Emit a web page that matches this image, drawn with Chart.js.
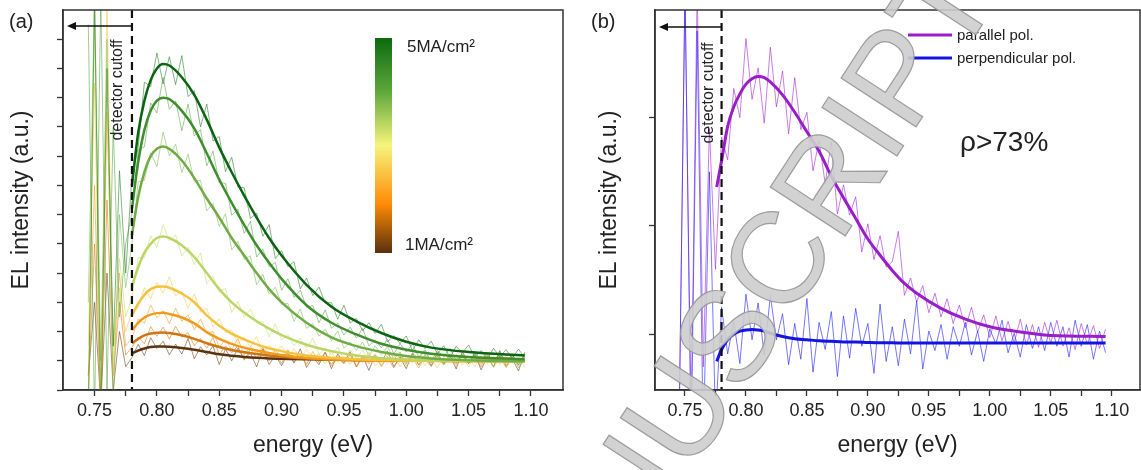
<!DOCTYPE html>
<html>
<head>
<meta charset="utf-8">
<script src="https://cdn.jsdelivr.net/npm/chart.js@4.4.1/dist/chart.umd.min.js"></script>
<style>
  html, body { margin: 0; padding: 0; background: #fff; }
  #wrap { position: relative; width: 1141px; height: 470px; overflow: hidden; }
  canvas { position: absolute; top: 0; }
  #chartA { left: 0; }
  #chartB { left: 570px; }
</style>
</head>
<body>
<div id="wrap">
  <canvas id="chartA" width="570" height="470"></canvas>
  <canvas id="chartB" width="571" height="470"></canvas>
</div>
<script>
// --- Energy grids (eV) ---
const energy = [
  0.745, 0.75, 0.755, 0.76, 0.765, 0.77, 0.775, 0.78, 0.785, 0.79,
  0.795, 0.8, 0.805, 0.81, 0.815, 0.82, 0.825, 0.83, 0.835, 0.84,
  0.845, 0.85, 0.855, 0.86, 0.865, 0.87, 0.875, 0.88, 0.885, 0.89,
  0.895, 0.9, 0.905, 0.91, 0.915, 0.92, 0.925, 0.93, 0.935, 0.94,
  0.945, 0.95, 0.955, 0.96, 0.965, 0.97, 0.975, 0.98, 0.985, 0.99,
  0.995, 1.0, 1.005, 1.01, 1.015, 1.02, 1.025, 1.03, 1.035, 1.04,
  1.045, 1.05, 1.055, 1.06, 1.065, 1.07, 1.075, 1.08, 1.085, 1.09,
  1.095
];
const fitEnergyA = [0.78, 0.785, 0.79, 0.795, 0.8, 0.805, 0.81, 0.82, 0.83, 0.84, 0.85, 0.86,
  0.87, 0.88, 0.89, 0.9, 0.92, 0.94, 0.96, 0.98, 1.0, 1.02, 1.05, 1.095];
const fitEnergyB = [0.776, 0.78, 0.785, 0.79, 0.795, 0.8, 0.805, 0.81, 0.815, 0.82, 0.83, 0.84,
  0.85, 0.86, 0.87, 0.88, 0.89, 0.9, 0.91, 0.92, 0.93, 0.94, 0.96, 0.98, 1.0, 1.02, 1.05, 1.095];

// --- Panel (a): measured EL, 1 to 5 MA/cm2 (highest current first) ---
const elA1 = [-1, 13.5, -1, 11, 1.5, 7.5, 4.0,
  7.33, 8.29, 10.53, 10.38, 11.53, 10.47, 11.40, 10.45, 11.44, 10.04,
  10.24, 9.0, 9.78, 8.52, 8.67, 7.47, 7.96, 6.94, 6.92, 5.87,
  6.05, 5.26, 5.66, 4.5, 4.77, 4.22, 4.39, 3.46, 3.83, 3.23,
  3.52, 2.97, 2.99, 2.42, 2.9, 2.29, 2.45, 2.03, 2.3, 1.93,
  2.25, 1.65, 1.86, 1.59, 1.85, 1.35, 1.72, 1.42, 1.67, 1.24,
  1.51, 1.11, 1.49, 1.28, 1.54, 1.13, 1.35, 1.05, 1.43, 1.13,
  1.38, 1.08, 1.4, 1.1];
const elA2 = [12.5, -1, 13.5, 0, 9, 2.5, 5.0,
  6.05, 8.21, 8.32, 9.82, 9.48, 10.7, 9.6, 9.89, 8.87, 9.78,
  8.69, 8.91, 7.67, 8.17, 7.09, 7.07, 5.98, 6.18, 5.36, 5.77,
  4.55, 4.82, 4.22, 4.36, 3.41, 3.81, 3.17, 3.42, 2.83, 2.89,
  2.3, 2.74, 2.11, 2.29, 1.88, 2.15, 1.78, 2.11, 1.51, 1.72,
  1.44, 1.73, 1.24, 1.59, 1.3, 1.57, 1.12, 1.38, 0.98, 1.35,
  1.15, 1.42, 1.01, 1.23, 0.92, 1.3, 1.01, 1.26, 0.96, 1.28,
  0.99, 1.21, 0.86, 1.28];
const elA3 = [3, 13.5, 1, 12, -0.5, 6, 3.5,
  5.02, 7.13, 7.17, 8.12, 7.64, 8.82, 8.01, 8.41, 7.44, 8.07,
  7.14, 7.17, 6.13, 6.38, 5.6, 6.03, 4.79, 5.08, 4.47, 4.59,
  3.6, 3.96, 3.27, 3.52, 2.93, 2.97, 2.35, 2.77, 2.11, 2.27,
  1.84, 2.08, 1.68, 2.02, 1.43, 1.64, 1.36, 1.64, 1.16, 1.51,
  1.22, 1.48, 1.05, 1.3, 0.9, 1.27, 1.07, 1.33, 0.93, 1.15,
  0.86, 1.23, 0.94, 1.18, 0.9, 1.22, 0.94, 1.16, 0.8, 1.23,
  0.92, 1.17, 0.76, 1.08];
const elA4 = [-1, 12.5, 0.5, 10, 1, 4.5, 2.5,
  3.17, 4.53, 4.52, 5.27, 4.88, 5.66, 5.11, 5.31, 4.59, 4.88,
  4.29, 4.69, 3.64, 3.89, 3.34, 3.48, 2.65, 3.03, 2.49, 2.76,
  2.29, 2.35, 1.82, 2.26, 1.71, 1.89, 1.52, 1.77, 1.44, 1.78,
  1.22, 1.44, 1.2, 1.47, 1.03, 1.38, 1.1, 1.37, 0.96, 1.21,
  0.84, 1.21, 1.02, 1.28, 0.89, 1.1, 0.83, 1.2, 0.91, 1.16,
  0.88, 1.2, 0.93, 1.14, 0.79, 1.21, 0.92, 1.17, 0.77, 1.08,
  0.83, 1.23, 0.86, 1.03];
const elA5 = [1.5, 10.5, -1, 13.5, 0.5, 3.5, 2,
  2.7, 2.85, 3.5, 3.12, 3.68, 3.31, 3.88, 3.22, 3.37, 2.79,
  3.28, 2.66, 2.8, 2.16, 2.43, 1.97, 2.05, 1.58, 1.81, 1.46,
  1.83, 1.24, 1.53, 1.29, 1.51, 1.02, 1.41, 1.08, 1.39, 1.11,
  1.24, 0.89, 1.33, 0.94, 1.16, 0.88, 1.18, 0.94, 1.29, 0.83,
  1.08, 0.9, 1.2, 0.79, 1.16, 0.93, 1.2, 0.83, 1.1, 0.75,
  1.13, 0.95, 1.23, 0.85, 1.08, 0.8, 1.18, 0.9, 1.15, 0.87,
  1.19, 0.92, 1.14, 0.79];
const elA6 = [0.5, 7, -1, 9.5, 1.5, 4, 1.5,
  1.78, 2.43, 2.29, 2.91, 2.47, 2.71, 2.27, 2.8, 2.35, 2.57,
  2.06, 2.42, 1.94, 2.0, 1.47, 1.71, 1.38, 1.76, 1.19, 1.49,
  1.25, 1.47, 0.99, 1.38, 1.06, 1.38, 1.1, 1.22, 0.87, 1.32,
  0.93, 1.14, 0.88, 1.17, 0.94, 1.28, 0.82, 1.07, 0.89, 1.19,
  0.79, 1.15, 0.93, 1.2, 0.83, 1.1, 0.75, 1.13, 0.95, 1.23,
  0.85, 1.08, 0.8, 1.18, 0.9, 1.15, 0.88, 1.19, 0.92, 1.14,
  0.79, 1.21, 0.92, 1.17];
const elA7 = [0, 5, -0.5, 6.5, 0.5, 3, 1.2,
  1.46, 1.81, 1.58, 2.17, 1.84, 2.15, 1.74, 2.18, 1.81, 1.96,
  1.52, 1.76, 1.43, 1.8, 1.2, 1.51, 1.28, 1.51, 1.02, 1.41,
  1.09, 1.41, 1.13, 1.26, 0.91, 1.35, 0.95, 1.17, 0.9, 1.2,
  0.96, 1.3, 0.84, 1.08, 0.9, 1.2, 0.8, 1.16, 0.94, 1.21,
  0.84, 1.1, 0.75, 1.13, 0.95, 1.23, 0.85, 1.08, 0.8, 1.18,
  0.9, 1.15, 0.88, 1.2, 0.93, 1.15, 0.8, 1.21, 0.92, 1.17,
  0.77, 1.09, 0.84, 1.24];
const elA8 = [0.5, 3, -0.5, 4, 0, 2, 0.8,
  1.11, 1.56, 1.18, 1.79, 1.42, 1.67, 1.2, 1.57, 1.23, 1.76,
  1.07, 1.48, 1.2, 1.51, 0.87, 1.41, 1.0, 1.43, 1.06, 1.26,
  0.79, 1.41, 0.87, 1.19, 0.83, 1.25, 0.92, 1.41, 0.77, 1.12,
  0.87, 1.29, 0.73, 1.24, 0.93, 1.31, 0.79, 1.16, 0.67, 1.2,
  0.95, 1.33, 0.8, 1.12, 0.73, 1.26, 0.86, 1.21, 0.83, 1.28,
  0.9, 1.21, 0.72, 1.32, 0.9, 1.25, 0.69, 1.14, 0.79, 1.35,
  0.83, 1.07, 0.65, 1.28];

// --- Panel (a): fitted curves ---
const fitA1 = [7.0, 8.8, 9.9, 10.6, 11.0, 11.15, 11.1, 10.7, 10.1, 9.25, 8.3, 7.45, 6.65, 5.9, 5.2, 4.6, 3.6, 2.85, 2.35, 1.95, 1.65, 1.45, 1.3, 1.18];
const fitA2 = [6.2, 7.8, 8.9, 9.55, 9.9, 10.0, 9.95, 9.55, 8.95, 8.1, 7.2, 6.4, 5.65, 4.95, 4.35, 3.8, 2.9, 2.3, 1.9, 1.58, 1.38, 1.24, 1.13, 1.05];
const fitA3 = [5.3, 6.6, 7.45, 8.0, 8.25, 8.33, 8.25, 7.85, 7.25, 6.55, 5.9, 5.2, 4.6, 4.0, 3.45, 3.0, 2.3, 1.8, 1.5, 1.3, 1.16, 1.08, 1.02, 0.98];
const fitA4 = [3.55, 4.2, 4.7, 5.0, 5.2, 5.25, 5.2, 4.95, 4.55, 4.0, 3.45, 3.0, 2.65, 2.35, 2.1, 1.88, 1.55, 1.33, 1.18, 1.09, 1.04, 1.01, 0.99, 0.98];
const fitA5 = [2.55, 2.95, 3.25, 3.45, 3.53, 3.54, 3.5, 3.3, 3.0, 2.55, 2.2, 1.93, 1.73, 1.56, 1.43, 1.33, 1.18, 1.1, 1.05, 1.03, 1.01, 1.0, 1.0, 0.99];
const fitA6 = [2.05, 2.3, 2.48, 2.58, 2.63, 2.64, 2.6, 2.48, 2.28, 1.98, 1.75, 1.58, 1.45, 1.35, 1.27, 1.2, 1.1, 1.05, 1.02, 1.01, 1.0, 1.0, 0.99, 0.99];
const fitA7 = [1.6, 1.75, 1.87, 1.93, 1.96, 1.97, 1.95, 1.87, 1.75, 1.6, 1.47, 1.37, 1.29, 1.23, 1.18, 1.14, 1.08, 1.04, 1.02, 1.01, 1.0, 1.0, 0.99, 0.99];
const fitA8 = [1.25, 1.35, 1.42, 1.47, 1.49, 1.49, 1.48, 1.44, 1.38, 1.3, 1.22, 1.17, 1.13, 1.1, 1.08, 1.07, 1.05, 1.04, 1.03, 1.02, 1.01, 1.01, 1.0, 1.0];

// --- Panel (b): parallel / perpendicular polarisation ---
const elPar = [-1, 3.2, -0.8, 3.2, -0.3, 1.9, 0.6,
  1.82, 1.61, 2.27, 2.0, 2.73, 2.17, 2.46, 1.95, 2.65, 2.1,
  2.43, 1.85, 2.37, 1.89, 2.05, 1.51, 1.79, 1.39, 1.78, 1.11,
  1.38, 1.1, 1.27, 0.76, 1.02, 0.69, 0.91, 0.62, 0.67, 0.95,
  0.36, 0.52, 0.3, 0.45, 0.2, 0.38, 0.16, 0.33, 0.1, 0.27,
  0.06, 0.25, 0.02, 0.18, -0.03, 0.17, -0.06, 0.12, -0.08, 0.14,
  -0.1, 0.09, -0.12, 0.11, -0.08, 0.13, -0.11, 0.06, -0.14, 0.1,
  -0.09, 0.08, -0.13, 0.05];
const elPerp = [-1, 3.2, -1, 2.8, -1, 1.5, -0.8,
  0.25, -0.18, 0.12, -0.27, 0.37, -0.05, 0.29, -0.19, 0.36, -0.05,
  0.19, -0.28, 0.1, -0.23, 0.33, -0.35, 0.11, -0.14, 0.21, -0.39,
  0.17, -0.22, 0.24, -0.11, 0.1, -0.36, 0.28, -0.25, 0.07, -0.29,
  0.14, -0.18, 0.31, -0.32, 0.03, -0.15, 0.09, -0.23, 0.07, -0.11,
  0.11, -0.19, 0.03, -0.25, 0.05, -0.09, 0.13, -0.17, 0.01, -0.21,
  0.09, -0.13, 0.07, -0.15, 0.11, -0.11, 0.07, -0.21, 0.13, -0.11,
  0.09, -0.23, 0.03, -0.17];
const fitPar = [1.36, 1.6, 1.92, 2.1, 2.22, 2.31, 2.36, 2.38, 2.37, 2.33, 2.21, 2.05, 1.87, 1.69,
  1.46, 1.26, 1.07, 0.88, 0.73, 0.59, 0.47, 0.38, 0.24, 0.14, 0.07, 0.03, -0.01, -0.02];
const fitPerp = [-0.25, -0.14, -0.05, 0.0, 0.03, 0.04, 0.045, 0.04, 0.03, 0.01, -0.02, -0.04, -0.05, -0.06,
  -0.065, -0.07, -0.07, -0.075, -0.078, -0.078, -0.08, -0.08, -0.08, -0.08, -0.08, -0.08, -0.08, -0.08];

// --- Axis ticks ---
const xTicks = [0.75, 0.775, 0.8, 0.825, 0.85, 0.875, 0.9, 0.925, 0.95, 0.975, 1.0, 1.025, 1.05, 1.075, 1.1];
const xTickLabels = ['0.75', '', '0.80', '', '0.85', '', '0.90', '', '0.95', '', '1.00', '', '1.05', '', '1.10'];
const yTicksA = [0, 1, 2, 3, 4, 5, 6, 7, 8, 9, 10, 11, 12];
const yTicksB = [0, 1, 2];

const cutoffEnergy = 0.78;

// --- Styles ---
const fitColorsA = ['#0b6412', '#3e8e2d', '#6fac46', '#bcd567', '#f3c23f', '#f19a1d', '#cf7612', '#5c3310'];
const rawColorsA = ['rgba(30,120,30,0.55)', 'rgba(80,160,60,0.55)', 'rgba(120,185,80,0.55)', 'rgba(200,225,110,0.6)',
  'rgba(250,205,80,0.6)', 'rgba(245,160,40,0.6)', 'rgba(215,125,30,0.6)', 'rgba(120,70,25,0.6)'];

Chart.defaults.font.family = '"Liberation Sans", Arial, sans-serif';
Chart.defaults.color = '#222';

const pts = (xs, ys) => xs.map((x, i) => ({ x: x, y: ys[i] }));

const rawA = [elA1, elA2, elA3, elA4, elA5, elA6, elA7, elA8];
const fitsA = [fitA1, fitA2, fitA3, fitA4, fitA5, fitA6, fitA7, fitA8];

const datasetsA = [];
fitsA.forEach((f, i) => datasetsA.push({
  data: pts(fitEnergyA, f), borderColor: fitColorsA[i], borderWidth: 2.5,
  pointRadius: 0, cubicInterpolationMode: 'monotone', order: 0
}));
rawA.forEach((r, i) => datasetsA.push({
  data: pts(energy, r), borderColor: rawColorsA[i], borderWidth: 1,
  pointRadius: 0, tension: 0, order: 1
}));

const datasetsB = [
  { data: pts(fitEnergyB, fitPar), borderColor: '#9a1ec8', borderWidth: 3, pointRadius: 0, cubicInterpolationMode: 'monotone', order: 0 },
  { data: pts(fitEnergyB, fitPerp), borderColor: '#1414e0', borderWidth: 3, pointRadius: 0, cubicInterpolationMode: 'monotone', order: 0 },
  { data: pts(energy, elPerp), borderColor: 'rgba(30,30,255,0.6)', borderWidth: 1, pointRadius: 0, tension: 0, order: 1 },
  { data: pts(energy, elPar), borderColor: 'rgba(165,40,215,0.6)', borderWidth: 1, pointRadius: 0, tension: 0, order: 1 }
];

// --- Helpers for annotations ---
function drawCutoff(chart, arrowY, textDx, textY) {
  const { ctx, chartArea: a, scales: { x } } = chart;
  const cx = x.getPixelForValue(cutoffEnergy);
  ctx.save();
  ctx.strokeStyle = '#111';
  ctx.lineWidth = 2.2;
  ctx.setLineDash([8, 5]);
  ctx.beginPath(); ctx.moveTo(cx, a.top); ctx.lineTo(cx, a.bottom); ctx.stroke();
  ctx.setLineDash([]);
  ctx.lineWidth = 1.3;
  ctx.beginPath(); ctx.moveTo(cx, arrowY); ctx.lineTo(a.left + 10, arrowY); ctx.stroke();
  ctx.fillStyle = '#111';
  ctx.beginPath();
  ctx.moveTo(a.left + 4, arrowY); ctx.lineTo(a.left + 13, arrowY - 4); ctx.lineTo(a.left + 13, arrowY + 4);
  ctx.closePath(); ctx.fill();
  ctx.translate(cx + textDx, textY);
  ctx.rotate(-Math.PI / 2);
  ctx.font = '16px "Liberation Sans", Arial, sans-serif';
  ctx.fillStyle = '#222';
  ctx.textAlign = 'center';
  ctx.textBaseline = 'middle';
  ctx.fillText('detector cutoff', 0, 0);
  ctx.restore();
}

function drawFrame(chart) {
  const { ctx, chartArea: a } = chart;
  ctx.save();
  ctx.strokeStyle = '#333';
  ctx.lineWidth = 1.5;
  ctx.strokeRect(a.left, a.top, a.right - a.left, a.bottom - a.top);
  ctx.restore();
}

// journal "accepted manuscript" stamp, shared by both canvases
function drawWatermark(chart, offsetX) {
  const ctx = chart.ctx;
  ctx.save();
  ctx.translate(690 - offsetX, 475);
  ctx.rotate(-57 * Math.PI / 180);
  ctx.font = '130px "Liberation Sans", Arial, sans-serif';
  ctx.textBaseline = 'alphabetic';
  const lead = ctx.measureText('ACCEPTED MAN').width;
  ctx.fillStyle = 'rgba(205,205,205,0.9)';
  ctx.strokeStyle = 'rgba(150,150,150,0.9)';
  ctx.lineWidth = 1.2;
  ctx.fillText('ACCEPTED MANUSCRIPT', -lead, 0);
  ctx.strokeText('ACCEPTED MANUSCRIPT', -lead, 0);
  ctx.restore();
}

const extrasA = {
  id: 'extrasA',
  afterDatasetsDraw(chart) {
    const ctx = chart.ctx;
    drawCutoff(chart, 26, -14, 90);
    // colour bar
    ctx.save();
    const g = ctx.createLinearGradient(0, 38, 0, 253);
    g.addColorStop(0, '#0b6a0e');
    g.addColorStop(0.25, '#5ea83c');
    g.addColorStop(0.5, '#f6f57c');
    g.addColorStop(0.77, '#ff8c05');
    g.addColorStop(1, '#5a300c');
    ctx.fillStyle = g;
    ctx.fillRect(375, 38, 17, 215);
    ctx.fillStyle = '#222';
    ctx.font = '17px "Liberation Sans", Arial, sans-serif';
    ctx.textBaseline = 'middle';
    ctx.fillText('5MA/cm\u00b2', 407, 47);
    ctx.fillText('1MA/cm\u00b2', 405, 245);
    ctx.font = '20px "Liberation Sans", Arial, sans-serif';
    ctx.fillText('(a)', 9, 22);
    ctx.restore();
    drawFrame(chart);
  },
  afterDraw(chart) { drawWatermark(chart, 0); }
};

const extrasB = {
  id: 'extrasB',
  afterDatasetsDraw(chart) {
    const ctx = chart.ctx;
    drawCutoff(chart, 27, -13, 93);
    ctx.save();
    ctx.lineWidth = 3;
    ctx.strokeStyle = '#9a1ec8';
    ctx.beginPath(); ctx.moveTo(338, 35); ctx.lineTo(382, 35); ctx.stroke();
    ctx.strokeStyle = '#1414e0';
    ctx.beginPath(); ctx.moveTo(338, 58); ctx.lineTo(382, 58); ctx.stroke();
    ctx.fillStyle = '#222';
    ctx.font = '15px "Liberation Sans", Arial, sans-serif';
    ctx.textBaseline = 'middle';
    ctx.fillText('parallel pol.', 387, 36);
    ctx.fillText('perpendicular pol.', 387, 59);
    ctx.font = '28px "Liberation Sans", Arial, sans-serif';
    ctx.fillText('\u03c1>73%', 390, 143);
    ctx.font = '20px "Liberation Sans", Arial, sans-serif';
    ctx.fillText('(b)', 21, 22);
    ctx.restore();
    drawFrame(chart);
  },
  afterDraw(chart) { drawWatermark(chart, 570); }
};

function makeOptions(xMin, xMax, yMin, yMax, yTicks, yWidth, titlePad, padRight) {
  return {
    responsive: false,
    animation: false,
    devicePixelRatio: 1,
    layout: { padding: { top: 10, right: padRight, bottom: 0, left: 0 } },
    plugins: { legend: { display: false }, tooltip: { enabled: false } },
    scales: {
      x: {
        type: 'linear', min: xMin, max: xMax,
        afterBuildTicks: s => { s.ticks = xTicks.map(v => ({ value: v })); },
        afterFit: s => { s.height = 80; },
        ticks: {
          autoSkip: false, maxRotation: 0, padding: 4,
          font: { size: 18 }, color: '#222',
          callback: (v, i) => xTickLabels[i]
        },
        grid: { drawOnChartArea: false, drawTicks: true, tickLength: 6, tickColor: '#333', tickWidth: 1.3 },
        border: { display: true, color: '#333', width: 1.5 },
        title: { display: true, text: 'energy (eV)', font: { size: 23 }, color: '#222', padding: { top: 0, bottom: 11 } }
      },
      y: {
        type: 'linear', min: yMin, max: yMax,
        afterBuildTicks: s => { s.ticks = yTicks.map(v => ({ value: v })); },
        afterFit: s => { s.width = yWidth; },
        ticks: { display: false },
        grid: { drawOnChartArea: false, drawTicks: true, tickLength: 6, tickColor: '#333', tickWidth: 1.3 },
        border: { display: true, color: '#333', width: 1.5 },
        title: { display: true, text: 'EL intensity (a.u.)', font: { size: 23 }, color: '#222', padding: { top: titlePad, bottom: 0 } }
      }
    }
  };
}

new Chart(document.getElementById('chartA').getContext('2d'), {
  type: 'line',
  data: { datasets: datasetsA },
  options: makeOptions(0.7247, 1.1257, 0, 13, yTicksA, 63, 8, 7),
  plugins: [extrasA]
});

new Chart(document.getElementById('chartB').getContext('2d'), {
  type: 'line',
  data: { datasets: datasetsB },
  options: makeOptions(0.7254, 1.1232, -0.514, 2.994, yTicksB, 85, 26, 1),
  plugins: [extrasB]
});
</script>
</body>
</html>
